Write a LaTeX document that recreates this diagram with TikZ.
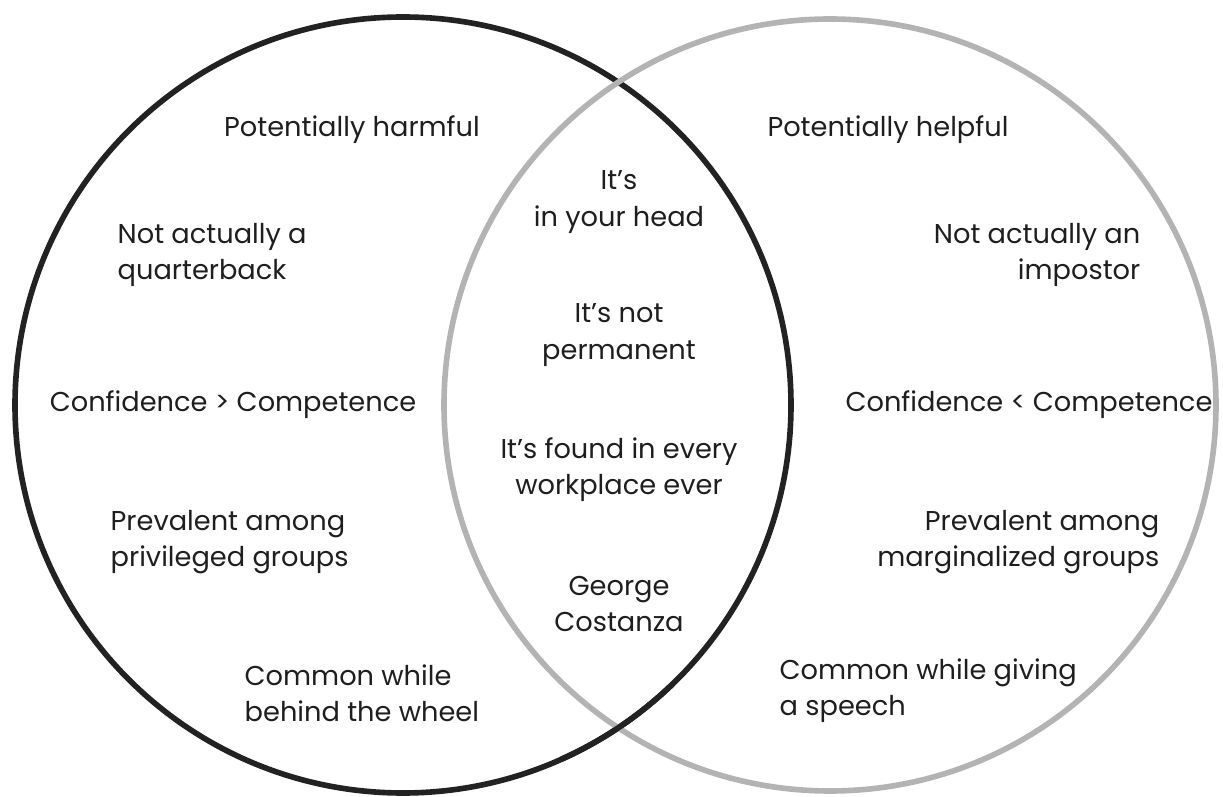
\documentclass[tikz,border=0pt]{standalone}
\usepackage{fontspec}
\setmainfont{Poppins}
\usepackage{tikz}
\usetikzlibrary{positioning,calc}
\definecolor{harmline}{HTML}{222222}
\definecolor{helpline}{HTML}{B3B3B3}
\definecolor{txtcol}{HTML}{1E1E1E}

\tikzset{
    ring/.style={line width=1.6pt},
    lbl/.style={font=\fontsize{7.75}{10.3}\selectfont, text=txtcol, inner sep=0pt}
}

\begin{document}
\begin{tikzpicture}
    \useasboundingbox (0,0) rectangle (12.23,7.96);

    % Cercles
    \coordinate (L) at (4.03,3.91);
    \coordinate (R) at (8.30,3.91);
    \draw[ring, harmline] (L) circle (3.88);
    \draw[ring, helpline] (R) circle (3.86);
    \draw[ring, harmline] ([shift={(-66:3.88)}]L) arc[start angle=-66, end angle=-46, radius=3.88];

    % Gauche
    \node[lbl] (harm) at (3.52,6.66) {Potentially harmful};
    \node[lbl, anchor=west, align=left] (quarter) at (1.17,5.41) {Not actually a\\quarterback};
    \node[lbl] (confgt) at (2.33,3.91) {Confidence > Competence};
    \node[lbl, anchor=west, align=left] (privileged) at (1.10,2.54) {Prevalent among\\privileged groups};
    \node[lbl, anchor=west, align=left] (wheel) at (2.44,1.03) {Common while\\behind the wheel};

    % Milieu
    \foreach \n/\y/\t in {head/5.94/{It’s\\in your head}, perm/4.61/{It’s not\\permanent},
                          work/3.26/{It’s found in every\\workplace ever}, george/1.92/{George\\Costanza}} {
        \node[lbl, align=center] (\n) at (6.19,\y) {\t};
    }

    % Droite
    \node[lbl] (help) at (8.88,6.66) {Potentially helpful};
    \node[lbl, anchor=east, align=right] (impostor) at (11.41,5.41) {Not actually an\\impostor};
    \node[lbl] (conflt) at (10.29,3.91) {Confidence < Competence};
    \node[lbl, anchor=east, align=right] (marginal) at (11.60,2.54) {Prevalent among\\marginalized groups};
    \node[lbl, anchor=west, align=left] (speech) at (7.79,1.05) {Common while giving\\a speech};
\end{tikzpicture}
\end{document}
